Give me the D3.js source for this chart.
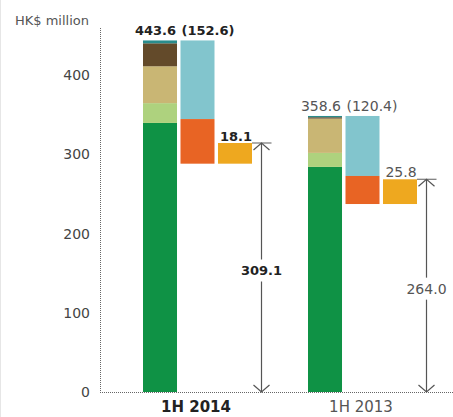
<!DOCTYPE html>
<html>
<head>
<meta charset="utf-8">
<script src="https://cdn.jsdelivr.net/npm/d3@7"></script>
<style>
  body { margin: 0; background: #fff; }
  svg { display: block; font-family: "DejaVu Sans", sans-serif; }
</style>
</head>
<body>
<div id="chart"></div>
<script>
// periods shown on the x axis
const groups = ['1H 2014', '1H 2013'];

// stacked segments of the first column, bottom to top
const segmentColors = ['#0f9245', '#aed27e', '#c9b674', '#634a2a', '#2a8c8c'];
const segments2014 = [339.5, 25.0, 46.5, 29.0, 3.6];
const segments2013 = [284.0, 17.7, 43.3, 1.7, 1.6];

// deduction column (hangs from the top of the stack), top to bottom
const deductColors = ['#82c5cd', '#e86424'];
const deduct2014 = [99.2, 56.3];
const deduct2013 = [75.7, 35.4];

// share column (sits on the bottom of the deduction)
const share2014 = 26.1;
const share2013 = 31.2;

// printed labels
const totalLabels = ['443.6', '358.6'];
const deductLabels = ['(152.6)', '(120.4)'];
const shareLabels = ['18.1', '25.8'];
const resultLabels = ['309.1', '264.0'];
const yTicks = [0, 100, 200, 300, 400];

const width = 453, height = 417;

const svg = d3.select('#chart')
    .append('svg')
    .attr('width', width)
    .attr('height', height);

// faint page edge on the left
svg.append('line')
    .attr('x1', 0.5).attr('x2', 0.5)
    .attr('y1', 0).attr('y2', height)
    .attr('stroke', '#e6e6e6');

const y = d3.scaleLinear().domain([0, 400]).range([392, 75]);

const x0 = d3.scaleBand().domain(groups).range([143, 473]);
const x1 = d3.scaleBand()
    .domain(['total', 'deduct', 'share'])
    .range([0, 109])
    .paddingInner(0.093);
const bw = x1.bandwidth();

const rows = groups.map((g, i) => ({
    group: g,
    bold: i === 0,
    segments: i === 0 ? segments2014 : segments2013,
    deduct: i === 0 ? deduct2014 : deduct2013,
    share: i === 0 ? share2014 : share2013,
    total: totalLabels[i],
    deductLabel: deductLabels[i],
    shareLabel: shareLabels[i],
    result: resultLabels[i]
}));

// y axis: dotted line + labels
svg.append('line')
    .attr('x1', 100.5).attr('x2', 100.5)
    .attr('y1', 28).attr('y2', y(0))
    .attr('stroke', '#666')
    .attr('stroke-dasharray', '1,1');

svg.selectAll('.ytick')
    .data(yTicks)
    .enter()
    .append('text')
    .attr('class', 'ytick')
    .attr('x', 90)
    .attr('y', d => y(d))
    .attr('dy', '0.36em')
    .attr('text-anchor', 'end')
    .style('font-size', '14px')
    .style('fill', '#444')
    .text(d => d);

svg.append('text')
    .attr('x', 15)
    .attr('y', 25)
    .style('font-size', '13px')
    .style('fill', '#555')
    .text('HK$ million');

rows.forEach(r => {
    const gx = x0(r.group);
    const g = svg.append('g').attr('transform', `translate(${gx},0)`);

    // stacked column
    let acc = 0;
    const stack = r.segments.map((v, j) => {
        const s = { y0: acc, y1: acc + v, color: segmentColors[j] };
        acc += v;
        return s;
    });
    const top = acc;
    g.selectAll('.seg')
        .data(stack)
        .enter()
        .append('rect')
        .attr('x', x1('total'))
        .attr('width', bw)
        .attr('y', d => y(d.y1))
        .attr('height', d => y(d.y0) - y(d.y1))
        .attr('fill', d => d.color);

    // deduction column hanging from the top
    let cur = top;
    const ded = r.deduct.map((v, j) => {
        const s = { y0: cur - v, y1: cur, color: deductColors[j] };
        cur -= v;
        return s;
    });
    const dedBottom = cur;
    g.selectAll('.ded')
        .data(ded)
        .enter()
        .append('rect')
        .attr('x', x1('deduct'))
        .attr('width', bw)
        .attr('y', d => y(d.y1))
        .attr('height', d => y(d.y0) - y(d.y1))
        .attr('fill', d => d.color);

    // share column
    const shareTop = dedBottom + r.share;
    g.append('rect')
        .attr('x', x1('share'))
        .attr('width', bw)
        .attr('y', y(shareTop))
        .attr('height', y(dedBottom) - y(shareTop))
        .attr('fill', '#eea81f');

    const weight = r.bold ? 'bold' : 'normal';
    const fs = r.bold ? '13px' : '14px';
    const tc = r.bold ? '#222' : '#555';

    g.append('text')
        .attr('x', x1('total') + bw - 1)
        .attr('y', y(top) - 5)
        .attr('text-anchor', 'end')
        .style('font-size', fs)
        .style('font-weight', weight)
        .style('fill', tc)
        .text(r.total);

    g.append('text')
        .attr('x', x1('deduct') + 1)
        .attr('y', y(top) - 5)
        .style('font-size', fs)
        .style('font-weight', weight)
        .style('fill', tc)
        .text(r.deductLabel);

    g.append('text')
        .attr('x', x1('share') + bw / 2 + 1)
        .attr('y', y(shareTop) - 2)
        .attr('text-anchor', 'middle')
        .style('font-size', fs)
        .style('font-weight', weight)
        .style('fill', tc)
        .text(r.shareLabel);

    // double arrow from baseline to share top
    const ax = 118.5;
    const ya = y(shareTop), yb = y(0);
    g.append('line')
        .attr('x1', x1('share') + bw).attr('x2', ax + 10)
        .attr('y1', ya).attr('y2', ya)
        .attr('stroke', '#777').attr('stroke-width', 1.2);
    g.append('line')
        .attr('x1', ax).attr('x2', ax)
        .attr('y1', ya).attr('y2', yb)
        .attr('stroke', '#555').attr('stroke-width', 1.2);
    g.append('path')
        .attr('d', `M${ax - 8},${ya + 7}L${ax},${ya}L${ax + 8},${ya + 7}`)
        .attr('fill', 'none').attr('stroke', '#555').attr('stroke-width', 1.2);
    g.append('path')
        .attr('d', `M${ax - 8},${yb - 7}L${ax},${yb}L${ax + 8},${yb - 7}`)
        .attr('fill', 'none').attr('stroke', '#555').attr('stroke-width', 1.2);

    const my = (ya + yb) / 2 + 3;
    g.append('rect')
        .attr('x', ax - 22).attr('y', my - 11)
        .attr('width', 44).attr('height', 22)
        .attr('fill', '#fff');
    g.append('text')
        .attr('x', ax)
        .attr('y', my)
        .attr('dy', '0.36em')
        .attr('text-anchor', 'middle')
        .style('font-size', fs)
        .style('font-weight', weight)
        .style('fill', tc)
        .text(r.result);

    // period label
    g.append('text')
        .attr('x', 53)
        .attr('y', 412)
        .attr('text-anchor', 'middle')
        .style('font-size', '15px')
        .style('font-weight', weight)
        .style('fill', r.bold ? '#222' : '#555')
        .text(r.group);
});

// dotted baseline
svg.append('line')
    .attr('x1', 100).attr('x2', width)
    .attr('y1', y(0) + 0.5).attr('y2', y(0) + 0.5)
    .attr('stroke', '#666')
    .attr('stroke-dasharray', '1,1');
</script>
</body>
</html>
